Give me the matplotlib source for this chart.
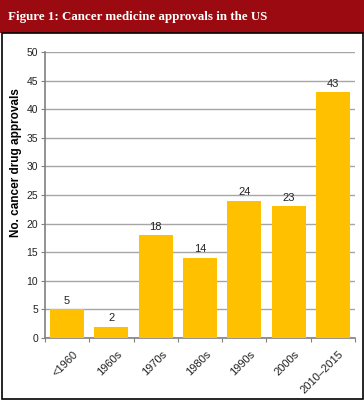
import matplotlib
matplotlib.use("Agg")
import matplotlib.pyplot as plt
from matplotlib.patches import Rectangle

categories = ["<1960", "1960s", "1970s", "1980s", "1990s", "2000s", "2010–2015"]
approvals = [5, 2, 18, 14, 24, 23, 43]
yticks = [0, 5, 10, 15, 20, 25, 30, 35, 40, 45, 50]

W, H = 364, 400
fig = plt.figure(figsize=(W/100, H/100), dpi=100)
plt.rcParams['font.family'] = ['Liberation Sans', 'DejaVu Sans']

# banner
fig.patches.append(Rectangle((0, 1 - 33/H), 1, 33/H, transform=fig.transFigure,
                             facecolor="#9B0A10", edgecolor="none", zorder=0))
fig.text(8/W, 1 - 17/H, "Figure 1: Cancer medicine approvals in the US",
         family=["Liberation Serif", "DejaVu Serif"], weight="bold", color="white",
         fontsize=9.4, va="center", ha="left")
# border
fig.patches.append(Rectangle((1.5/W, 1.5/H), (W-3)/W, (H-33-1.5)/H, transform=fig.transFigure,
                             facecolor="none", edgecolor="black", linewidth=1.2, zorder=1))

left, right, top, bottom = 45, 355, 52, 338
ax = fig.add_axes([left/W, 1 - bottom/H, (right-left)/W, (bottom-top)/H])
x = range(len(categories))
bars = ax.bar(x, approvals, width=0.77, color="#FFC000", zorder=3)
for xi, v in zip(x, approvals):
    ax.text(xi, v + 0.6, str(v), ha="center", va="bottom", fontsize=8, color="#222222")

ax.set_xlim(-0.5, len(categories) - 0.5)
ax.set_ylim(0, 50)
ax.set_yticks(yticks)
ax.set_yticklabels([str(t) for t in yticks], fontsize=7.5, color="#222222")
ax.yaxis.grid(True, color="#A6A6A6", linewidth=1, zorder=0)
ax.set_axisbelow(True)
ax.tick_params(axis="y", length=3, color="#808080", pad=2)

ax.set_xticks([i + 0.5 for i in range(-1, len(categories))], minor=False)
ax.set_xticklabels([])
ax.tick_params(axis="x", length=3, color="#808080", direction="out")
for xi, c in zip(x, categories):
    ax.annotate(c, xy=(xi, 0), xycoords="data", xytext=(4, -8), textcoords="offset points",
                rotation=45, ha="right", va="top", fontsize=8, color="#222222",
                rotation_mode="anchor")

for s in ["top", "right"]:
    ax.spines[s].set_visible(False)
ax.spines["left"].set_color("#808080")
ax.spines["bottom"].set_color("#808080")
ax.spines["left"].set_linewidth(1.2)
ax.spines["bottom"].set_linewidth(1.2)

fig.text(16/W, 1 - 163/H, "No. cancer drug approvals", rotation=90, fontsize=8.5,
         weight="bold", ha="center", va="center")

fig.savefig("out.png", dpi=100)
